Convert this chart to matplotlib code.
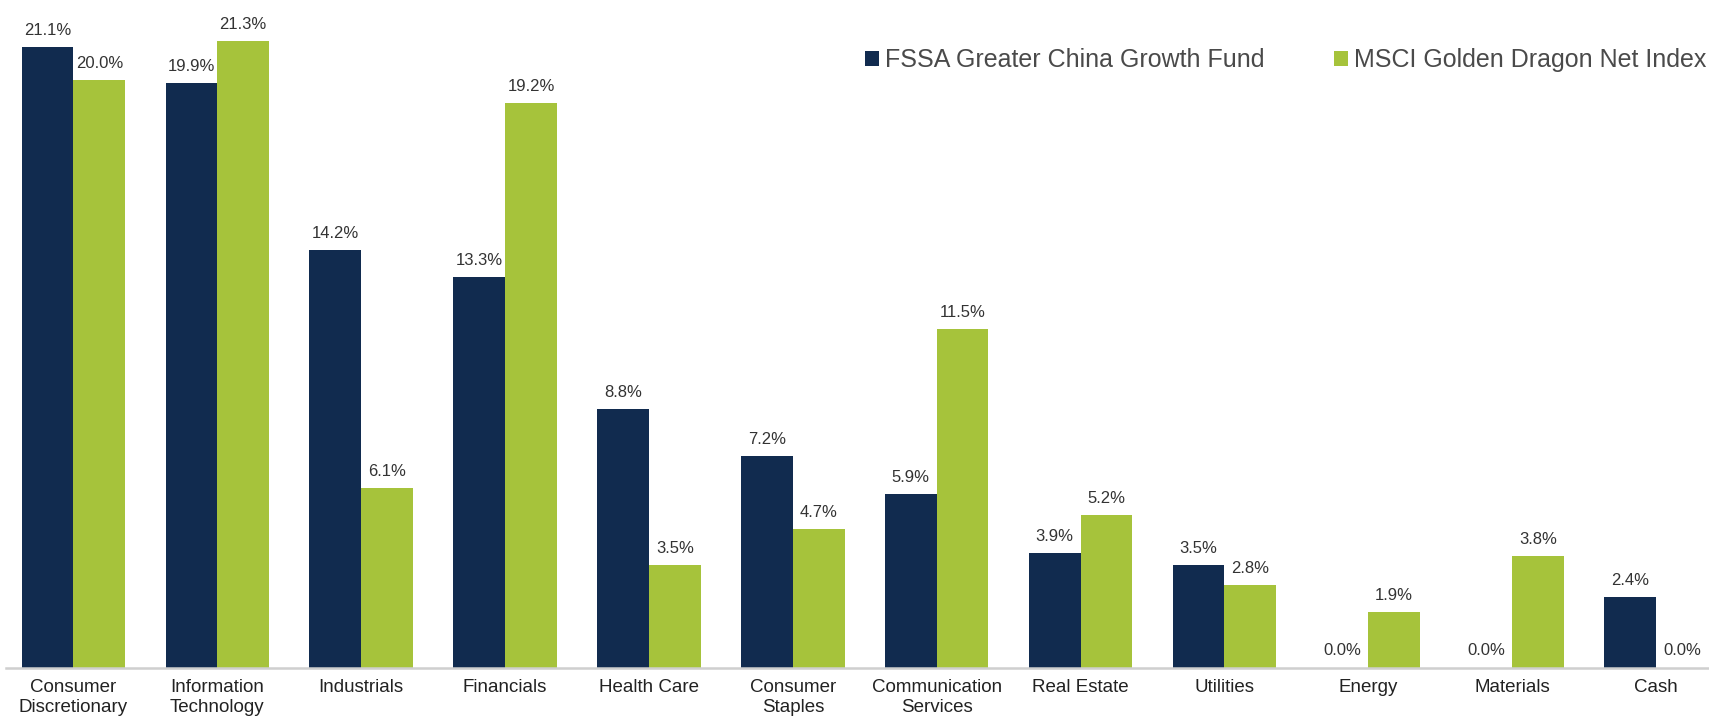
import numpy as np
import matplotlib.pyplot as plt

plt.rcParams['font.family'] = ['Liberation Sans', 'DejaVu Sans']

sectors = ['Consumer\nDiscretionary', 'Information\nTechnology', 'Industrials', 'Financials',
           'Health Care', 'Consumer\nStaples', 'Communication\nServices', 'Real Estate',
           'Utilities', 'Energy', 'Materials', 'Cash']
fund = [21.1, 19.9, 14.2, 13.3, 8.8, 7.2, 5.9, 3.9, 3.5, 0.0, 0.0, 2.4]
index = [20.0, 21.3, 6.1, 19.2, 3.5, 4.7, 11.5, 5.2, 2.8, 1.9, 3.8, 0.0]
series_names = ['FSSA Greater China Growth Fund', 'MSCI Golden Dragon Net Index']

navy = '#112b4f'
green = '#a6c33b'

fig = plt.figure(figsize=(17.09, 7.21), dpi=100)
ax = fig.add_axes([6/1709, 53.5/721, 1703/1709, 667.5/721])

x = np.arange(len(sectors))
w = 0.36
b1 = ax.bar(x - w/2, fund, w, color=navy, label=series_names[0])
b2 = ax.bar(x + w/2, index, w, color=green, label=series_names[1])

for bars in (b1, b2):
    ax.bar_label(bars, labels=['%.1f%%' % v for v in bars.datavalues],
                 padding=6.5, fontsize=12, color='#333333')

ax.set_xlim(-0.469, 11.368)
ax.set_ylim(0, 22.71)
ax.set_xticks(x)
ax.set_xticklabels(sectors, fontsize=13.5, color='#222222', linespacing=1.2)
ax.tick_params(axis='x', length=0, pad=8.6)
ax.set_yticks([])
for s in ('left', 'right', 'top'):
    ax.spines[s].set_visible(False)
ax.spines['bottom'].set_color('#cfcfcf')
ax.spines['bottom'].set_linewidth(1.8)

# legend across the top right
fig.legend(loc='center left', bbox_to_anchor=(865/1709, 1 - 60/721), ncol=2,
           frameon=False, fontsize=18, handlelength=0.56, handleheight=0.56,
           handletextpad=0.24, columnspacing=2.76, borderpad=0, borderaxespad=0,
           labelcolor='#4a4a4a')

fig.savefig('out.png', dpi=100)
